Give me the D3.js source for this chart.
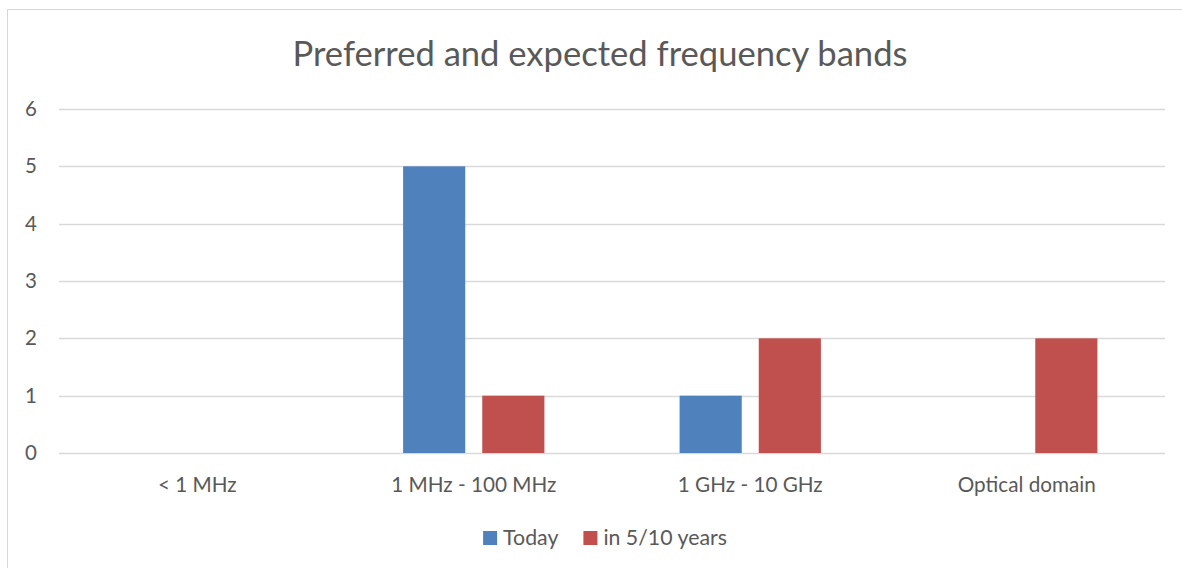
<!DOCTYPE html>
<html>
<head>
<meta charset="utf-8">
<script src="https://cdn.jsdelivr.net/npm/d3@7"></script>
<style>
  html, body { margin: 0; padding: 0; background: #fff; }
  svg { display: block; }
  text { font-family: Lato, "Open Sans", sans-serif; fill: #595959; }
</style>
</head>
<body>
<script>
// Chart data
const categories = ["< 1 MHz", "1 MHz - 100 MHz", "1 GHz - 10 GHz", "Optical domain"];
const seriesNames = ["Today", "in 5/10 years"];
const today = [0, 5, 1, 0];
const inFiveTenYears = [0, 1, 2, 2];
const yTicks = [0, 1, 2, 3, 4, 5, 6];
const chartTitle = "Preferred and expected frequency bands";

const colors = ["#4F81BD", "#C0504D"];
const seriesValues = [today, inFiveTenYears];

const W = 1182, H = 568;
const plot = { left: 59, right: 1165, top: 109, bottom: 453 };

const svg = d3.select("body").append("svg")
  .attr("width", W).attr("height", H);

// Chart frame
svg.append("rect")
  .attr("x", 7.5).attr("y", 9.5)
  .attr("width", 1186).attr("height", 600)
  .attr("fill", "none")
  .attr("stroke", "#d9d9d9")
  .attr("stroke-width", 1);

const x = d3.scaleBand()
  .domain(categories)
  .range([plot.left, plot.right])
  .paddingInner(0).paddingOuter(0);

const xInner = d3.scaleBand()
  .domain(seriesNames)
  .range([0, x.bandwidth()])
  .paddingInner(0.215)
  .paddingOuter(0.854);

const y = d3.scaleLinear()
  .domain([0, 6])
  .range([plot.bottom, plot.top]);

// Horizontal gridlines
svg.append("g")
  .selectAll("line")
  .data(yTicks)
  .join("line")
  .attr("x1", plot.left).attr("x2", plot.right)
  .attr("y1", d => Math.round(y(d)) + 0.5)
  .attr("y2", d => Math.round(y(d)) + 0.5)
  .attr("stroke", "#d9d9d9")
  .attr("stroke-width", 1.5);

// Y axis labels
const yAxis = d3.axisLeft(y).tickValues(yTicks).tickSize(0).tickPadding(0).tickFormat(d3.format("d"));
const yG = svg.append("g")
  .attr("transform", `translate(${37},0)`)
  .call(yAxis);
yG.select(".domain").remove();
yG.selectAll("text")
  .attr("font-size", 20.5)
  .attr("font-family", null)
  .attr("fill", "#595959");

// Bars
const groups = svg.append("g")
  .selectAll("g")
  .data(categories)
  .join("g")
  .attr("transform", d => `translate(${x(d)},0)`);

groups.selectAll("rect")
  .data((c, i) => seriesNames.map((s, j) => ({ s, j, v: seriesValues[j][i] })))
  .join("rect")
  .filter(d => d.v > 0)
  .attr("x", d => xInner(d.s))
  .attr("width", xInner.bandwidth())
  .attr("y", d => y(d.v))
  .attr("height", d => y(0) - y(d.v))
  .attr("fill", d => colors[d.j]);

// X axis labels
const xAxis = d3.axisBottom(x).tickSize(0).tickPadding(0);
const xG = svg.append("g")
  .attr("transform", `translate(0,${492})`)
  .call(xAxis);
xG.select(".domain").remove();
xG.selectAll("text")
  .attr("dy", 0)
  .attr("font-size", 20.7)
  .attr("font-family", null)
  .attr("fill", "#595959");

// Title
svg.append("text")
  .attr("x", 600).attr("y", 66)
  .attr("text-anchor", "middle")
  .attr("font-size", 34.6)
  .text(chartTitle);

// Legend
const legend = svg.append("g");
const items = legend.selectAll("g")
  .data(seriesNames)
  .join("g");
items.append("rect")
  .attr("width", 14).attr("height", 14)
  .attr("y", 531)
  .attr("fill", (d, i) => colors[i]);
items.append("text")
  .attr("x", 20).attr("y", 545)
  .attr("font-size", 21.3)
  .text(d => d);

let cursor = 0;
const offsets = [];
items.each(function () {
  const w = 20 + this.querySelector("text").getComputedTextLength();
  offsets.push(cursor);
  cursor += w + 25;
});
const totalW = cursor - 25;
const startX = 605 - totalW / 2;
items.attr("transform", (d, i) => `translate(${startX + offsets[i]},0)`);
</script>
</body>
</html>
